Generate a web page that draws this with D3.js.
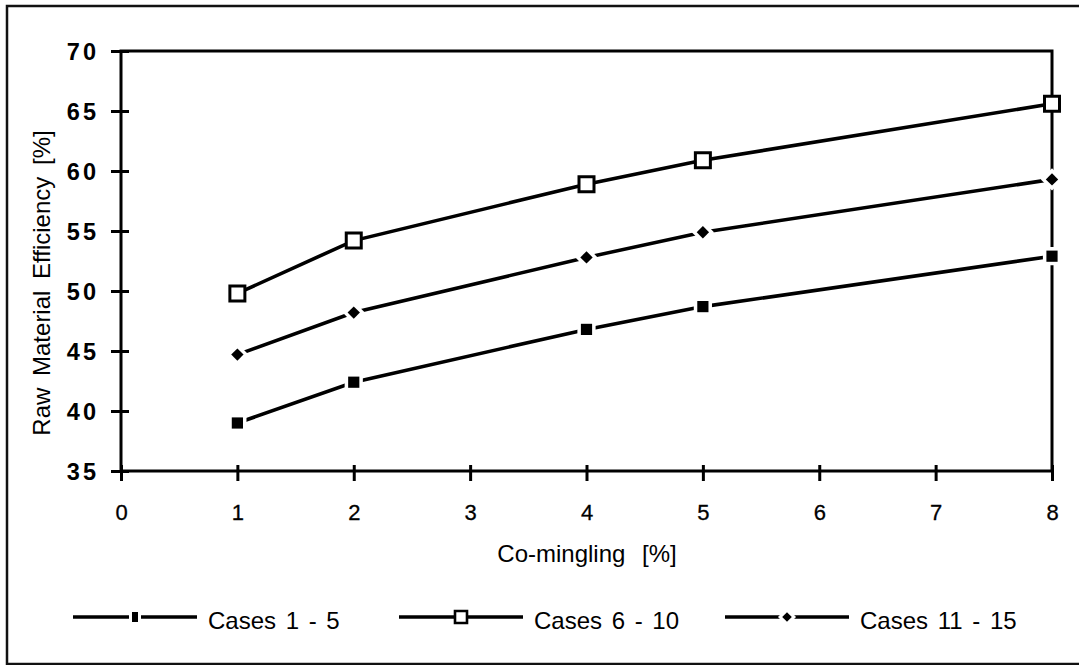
<!DOCTYPE html>
<html>
<head>
<meta charset="utf-8">
<script src="https://cdn.jsdelivr.net/npm/d3@7"></script>
<style>
  html, body { margin: 0; padding: 0; background: #fff; }
  svg { display: block; font-family: "Liberation Sans", Arial, Helvetica, sans-serif; }
</style>
</head>
<body>
<svg id="chart" width="1079" height="665"></svg>
<script>
// chart values
const xValues = [1, 2, 4, 5, 8];
const cases1to5 = [39.0, 42.4, 46.8, 48.7, 52.9];
const cases6to10 = [49.8, 54.2, 58.9, 60.9, 65.6];
const cases11to15 = [44.7, 48.2, 52.8, 54.9, 59.3];
const seriesNames = ["Cases 1 - 5", "Cases 6 - 10", "Cases 11 - 15"];
const seriesShapes = ["square", "open", "diamond"];
const xTicks = [0, 1, 2, 3, 4, 5, 6, 7, 8];
const yTicks = [35, 40, 45, 50, 55, 60, 65, 70];
const xTitle = "Co-mingling [%]";
const yTitle = "Raw Material Efficiency [%]";

const series = [cases1to5, cases6to10, cases11to15].map((vals, i) => ({
  name: seriesNames[i],
  shape: seriesShapes[i],
  points: vals.map((v, j) => ({ x: xValues[j], y: v })),
}));

const svg = d3.select("#chart");
const font = "'Liberation Sans', Arial, sans-serif";

// outer frame (right edge runs off the page like the scan)
svg
  .append("rect")
  .attr("x", 7)
  .attr("y", 6)
  .attr("width", 1100)
  .attr("height", 658)
  .attr("fill", "none")
  .attr("stroke", "#111")
  .attr("stroke-width", 2.5);

const x = d3.scaleLinear().domain([0, 8]).range([121, 1052]);
const y = d3.scaleLinear().domain([35, 70]).range([471, 51]);

// plot box
svg
  .append("rect")
  .attr("x", x(0))
  .attr("y", y(70))
  .attr("width", x(8) - x(0))
  .attr("height", y(35) - y(70))
  .attr("fill", "none")
  .attr("stroke", "#000")
  .attr("stroke-width", 3);

// y axis: ticks cross the axis line
const yAxis = svg
  .append("g")
  .attr("transform", `translate(${x(0)},0)`)
  .call(d3.axisLeft(y).tickValues(yTicks).tickSize(0).tickPadding(0));
yAxis.select(".domain").remove();
yAxis
  .selectAll(".tick line")
  .attr("x1", -10)
  .attr("x2", 8)
  .attr("stroke", "#000")
  .attr("stroke-width", 3);
yAxis
  .selectAll(".tick text")
  .attr("x", -22)
  .attr("dy", "0.36em")
  .attr("fill", "#000")
  .style("font-size", "23.5px")
  .style("font-weight", "bold")
  .style("letter-spacing", "3px")
  .style("font-family", font);

// x axis
const xAxis = svg
  .append("g")
  .attr("transform", `translate(0,${y(35)})`)
  .call(d3.axisBottom(x).tickValues(xTicks).tickSize(0).tickPadding(0));
xAxis.select(".domain").remove();
xAxis
  .selectAll(".tick line")
  .attr("y1", -6)
  .attr("y2", 10)
  .attr("stroke", "#000")
  .attr("stroke-width", 3);
xAxis
  .selectAll(".tick text")
  .attr("y", 49)
  .attr("dy", 0)
  .attr("fill", "#000")
  .attr("stroke", "#000")
  .attr("stroke-width", 0.3)
  .style("font-size", "22px")
  .style("font-family", font);

// axis titles
svg
  .append("text")
  .attr("transform", "translate(50,283) rotate(-90)")
  .attr("text-anchor", "middle")
  .style("font-size", "24px")
  .style("word-spacing", "5px")
  .text(yTitle);

svg
  .append("text")
  .attr("x", 587)
  .attr("y", 562)
  .attr("text-anchor", "middle")
  .style("font-size", "24px")
  .style("word-spacing", "10px")
  .text(xTitle);

// marker paths
const shapePaths = {
  square: (s) => `M ${-s} ${-s} L ${s} ${-s} L ${s} ${s} L ${-s} ${s} Z`,
  open: (s) => `M ${-s} ${-s} L ${s} ${-s} L ${s} ${s} L ${-s} ${s} Z`,
  diamond: (s) => `M 0 ${-s} L ${s} 0 L 0 ${s} L ${-s} 0 Z`,
};
const markerSize = { square: 5.6, open: 7.5, diamond: 6.2 };

const line = d3
  .line()
  .x((d) => x(d.x))
  .y((d) => y(d.y));

const grps = svg
  .selectAll("g.series")
  .data(series)
  .join("g")
  .attr("class", "series");

grps
  .append("path")
  .attr("d", (d) => line(d.points))
  .attr("fill", "none")
  .attr("stroke", "#000")
  .attr("stroke-width", 3.6);

// white halo so the lines stop short of the markers
grps
  .selectAll("path.halo")
  .data((d) => d.points.map((p) => ({ ...p, shape: d.shape })))
  .join("path")
  .attr("class", "halo")
  .attr("d", (d) => shapePaths[d.shape](markerSize[d.shape]))
  .attr("transform", (d) => `translate(${x(d.x)},${y(d.y)})`)
  .attr("fill", "#fff")
  .attr("stroke", "#fff")
  .attr("stroke-width", (d) => (d.shape === "open" ? 0 : 7));

grps
  .selectAll("path.shape")
  .data((d) => d.points.map((p) => ({ ...p, shape: d.shape })))
  .join("path")
  .attr("class", "shape")
  .attr("d", (d) => shapePaths[d.shape](markerSize[d.shape]))
  .attr("transform", (d) => `translate(${x(d.x)},${y(d.y)})`)
  .attr("fill", (d) => (d.shape === "open" ? "#fff" : "#000"))
  .attr("stroke", (d) => (d.shape === "open" ? "#000" : "none"))
  .attr("stroke-width", 3);

// legend
const legendX = [73, 399, 725];
const legendY = 617;
const legendMarker = {
  square: () => `M -3 -5 L 3 -5 L 3 5 L -3 5 Z`,
  open: () => shapePaths.open(6),
  diamond: () => shapePaths.diamond(4.8),
};

const items = svg
  .selectAll("g.legend")
  .data(series)
  .join("g")
  .attr("class", "legend")
  .attr("transform", (d, i) => `translate(${legendX[i]},${legendY})`);

items
  .append("line")
  .attr("x1", 0)
  .attr("x2", 124)
  .attr("stroke", "#000")
  .attr("stroke-width", 3.4);

items
  .append("path")
  .attr("d", (d) => legendMarker[d.shape]())
  .attr("transform", "translate(62,0)")
  .attr("fill", "#fff")
  .attr("stroke", "#fff")
  .attr("stroke-width", (d) => (d.shape === "open" ? 0 : 6));

items
  .append("path")
  .attr("d", (d) => legendMarker[d.shape]())
  .attr("transform", "translate(62,0)")
  .attr("fill", (d) => (d.shape === "open" ? "#fff" : "#000"))
  .attr("stroke", (d) => (d.shape === "open" ? "#000" : "none"))
  .attr("stroke-width", 2.6);

items
  .append("text")
  .attr("x", 135)
  .attr("y", 12)
  .style("font-size", "24px")
  .style("word-spacing", "3px")
  .text((d) => d.name);
</script>
</body>
</html>
